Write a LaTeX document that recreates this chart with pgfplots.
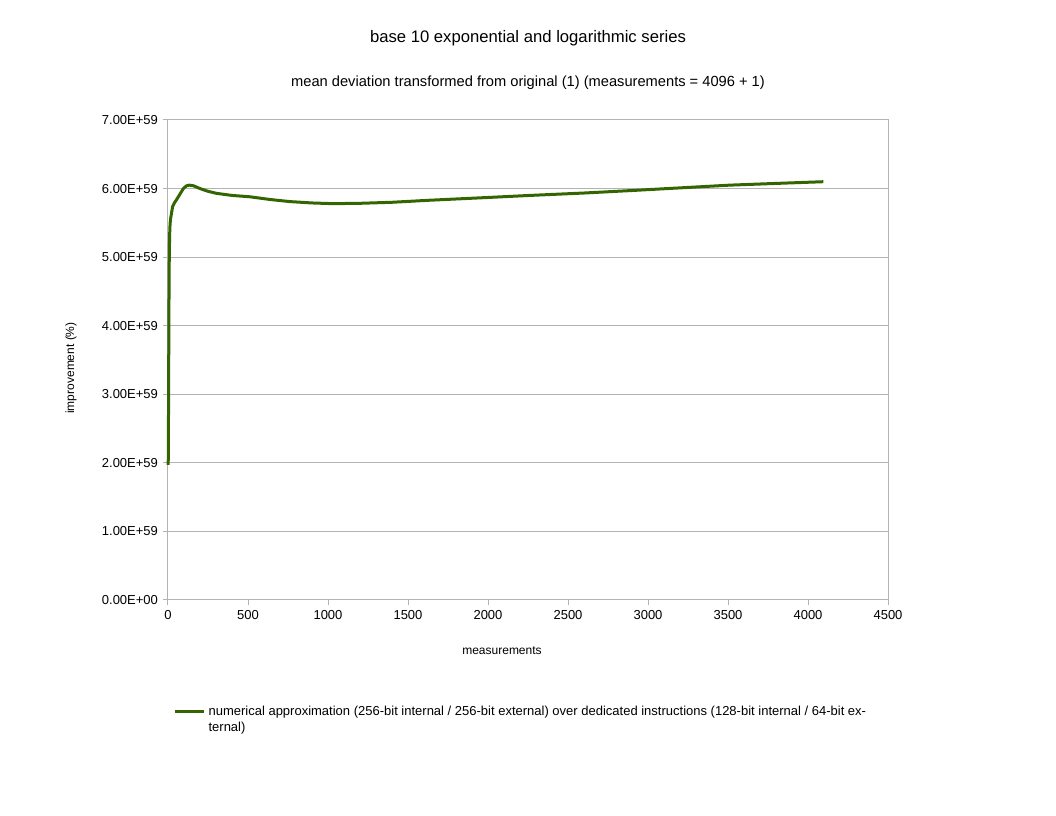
\documentclass[border=0pt]{standalone}
\usepackage{pgfplots}
\pgfplotsset{compat=1.18}
\usepackage{fontspec}
\setmainfont{Liberation Sans}
\definecolor{gridgray}{RGB}{179,179,179}
\definecolor{serie}{RGB}{51,102,0}
\begin{document}
\begin{tikzpicture}
\useasboundingbox (-126pt,-162pt) rectangle (666pt,450pt);
\begin{axis}[
  scale only axis,
  width=540pt, height=360pt,
  xmin=0, xmax=4500, ymin=0, ymax=7e59,
  xtick={0,500,...,4500},
  ytick={0,1e59,2e59,3e59,4e59,5e59,6e59,7e59},
  yticklabels={0.00E+00,1.00E+59,2.00E+59,3.00E+59,4.00E+59,5.00E+59,6.00E+59,7.00E+59},
  scaled y ticks=false,
  xticklabel style={/pgf/number format/.cd,fixed,1000 sep={},assume math mode=true},
  /pgf/number format/assume math mode=true,
  ymajorgrids,
  grid style={gridgray, line width=0.75pt},
  axis line style={gridgray, line width=0.75pt},
  tick style={gridgray, line width=0.75pt},
  tick align=outside,
  major tick length=4pt,
  xtick pos=bottom, ytick pos=left,
  tick label style={font=\fontsize{9.75}{11}\selectfont, text=black},
  legend style={draw=none, at={(4pt,-90pt)}, anchor=west, font=\fontsize{9.75}{12}\selectfont,
     cells={align=left, anchor=west}, inner sep=0pt, row sep=0pt},
  legend image code/.code={\draw[#1, line width=2.25pt] (0pt,6pt) -- (22pt,6pt);},
  clip=false,
]
\addplot[serie, line width=2.25pt, line join=round] coordinates {
(0,1.97e59) (2,2.05e59) (4,3.2e59) (6,4.3e59) (8,5.0e59) (10,5.3e59) (12,5.44e59)
(15,5.54e59) (19,5.60e59) (24,5.67e59) (29,5.74e59) (40,5.79e59) (54,5.84e59)
(75,5.92e59) (96,6.00e59) (115,6.04e59) (133,6.05e59) (160,6.04e59) (200,6.00e59)
(250,5.96e59) (304,5.93e59) (400,5.90e59) (512,5.88e59) (640,5.84e59) (762,5.81e59)
(900,5.79e59) (1031,5.78e59) (1200,5.785e59) (1400,5.80e59) (1637,5.83e59)
(2000,5.87e59) (2262,5.90e59) (2600,5.935e59) (2887,5.97e59) (3200,6.01e59)
(3512,6.05e59) (3800,6.075e59) (4096,6.10e59)
};
\addlegendentry{numerical approximation (256-bit internal / 256-bit external) over dedicated instructions (128-bit internal / 64-bit ex-\\ternal)}
\end{axis}
\node[font=\fontsize{12.5}{14}\selectfont] at (270pt,421.5pt) {base 10 exponential and logarithmic series};
\node[font=\fontsize{11}{13}\selectfont] at (270pt,387.75pt) {mean deviation transformed from original (1) (measurements = 4096 + 1)};
\node[font=\fontsize{9}{11}\selectfont] at (250.5pt,-38.25pt) {measurements};
\node[font=\fontsize{9}{11}\selectfont, rotate=90] at (-72.75pt,174pt) {improvement (\%)};
\end{tikzpicture}
\end{document}
